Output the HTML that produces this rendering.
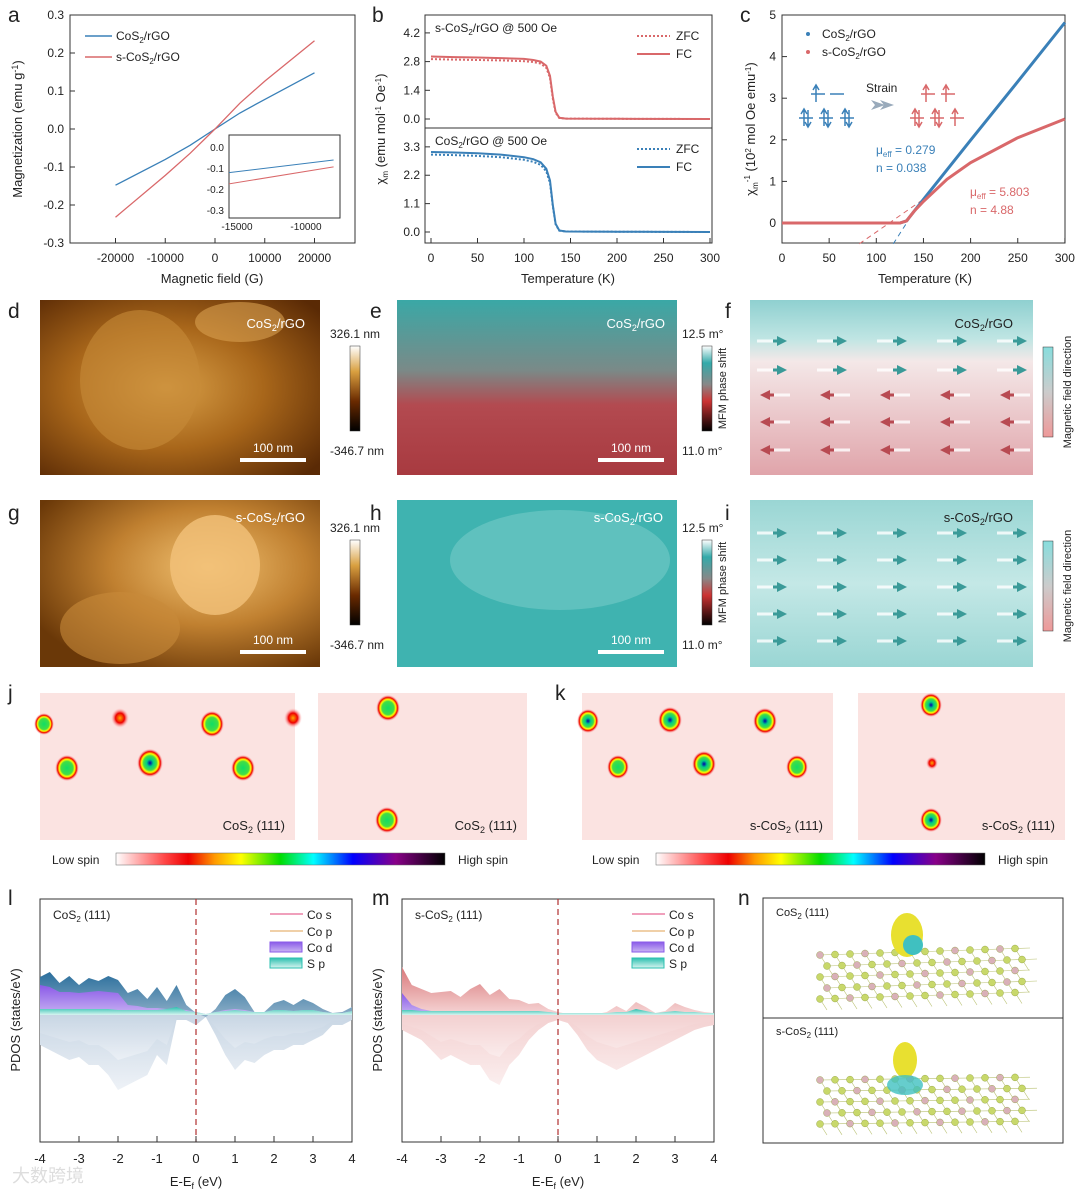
<!DOCTYPE html>
<html><head><meta charset="utf-8"><style>
body{margin:0;background:#fff}
svg{display:block;font-family:"Liberation Sans","Noto Sans CJK SC",sans-serif}
</style></head><body>
<svg id="fig" width="1080" height="1197" viewBox="0 0 1080 1197" xmlns="http://www.w3.org/2000/svg">
<defs>
<clipPath id="insetClip"><rect x="229" y="135" width="111" height="83"/></clipPath>
<linearGradient id="spin" x1="0" x2="1"><stop offset="0" stop-color="#fff"/><stop offset=".15" stop-color="#f44"/><stop offset=".22" stop-color="#e00"/><stop offset=".3" stop-color="#f90"/><stop offset=".38" stop-color="#ff0"/><stop offset=".5" stop-color="#0d0"/><stop offset=".6" stop-color="#0ff"/><stop offset=".72" stop-color="#00f"/><stop offset=".85" stop-color="#808"/><stop offset="1" stop-color="#000"/></linearGradient>
<radialGradient id="blob"><stop offset="0" stop-color="#00a"/><stop offset=".25" stop-color="#0c8"/><stop offset=".5" stop-color="#4d4"/><stop offset=".65" stop-color="#ff0"/><stop offset=".8" stop-color="#e00"/><stop offset="1" stop-color="#fbb" stop-opacity="0"/></radialGradient>
<radialGradient id="blobg"><stop offset="0" stop-color="#1d6"/><stop offset=".5" stop-color="#4d4"/><stop offset=".65" stop-color="#ff0"/><stop offset=".8" stop-color="#e00"/><stop offset="1" stop-color="#fbb" stop-opacity="0"/></radialGradient>
<radialGradient id="blobr"><stop offset="0" stop-color="#fa0"/><stop offset=".5" stop-color="#e00"/><stop offset="1" stop-color="#fbb" stop-opacity="0"/></radialGradient>
<linearGradient id="afmbar" x1="0" y1="1" x2="0" y2="0"><stop offset="0" stop-color="#000"/><stop offset=".35" stop-color="#6a2a00"/><stop offset=".7" stop-color="#d9a040"/><stop offset="1" stop-color="#fff"/></linearGradient>
<linearGradient id="mfmbar" x1="0" y1="1" x2="0" y2="0"><stop offset="0" stop-color="#000"/><stop offset=".35" stop-color="#c33"/><stop offset=".55" stop-color="#888"/><stop offset=".8" stop-color="#3aa"/><stop offset="1" stop-color="#fff"/></linearGradient>
<linearGradient id="fieldbar" x1="0" y1="0" x2="0" y2="1"><stop offset="0" stop-color="#8dd"/><stop offset=".5" stop-color="#ccc"/><stop offset="1" stop-color="#e99"/></linearGradient>
<linearGradient id="fbg" x1="0" y1="0" x2="0" y2="1"><stop offset="0" stop-color="#8fd0d0"/><stop offset=".22" stop-color="#bfe5e3"/><stop offset=".35" stop-color="#f4e8e8"/><stop offset="1" stop-color="#e0a4aa"/></linearGradient>
<linearGradient id="ibg" x1="0" y1="0" x2="0" y2="1"><stop offset="0" stop-color="#9ad6d4"/><stop offset=".5" stop-color="#c4e8e6"/><stop offset="1" stop-color="#9ad6d4"/></linearGradient>
<radialGradient id="afm1" cx=".45" cy=".5" r=".7"><stop offset="0" stop-color="#d9a048"/><stop offset=".5" stop-color="#a8661a"/><stop offset="1" stop-color="#5a2a05"/></radialGradient>
<radialGradient id="afm2" cx=".6" cy=".4" r=".7"><stop offset="0" stop-color="#f0c070"/><stop offset=".5" stop-color="#c08030"/><stop offset="1" stop-color="#6a3808"/></radialGradient>
<linearGradient id="ebg" x1="0" y1="0" x2="0" y2="1"><stop offset="0" stop-color="#3aa8a6"/><stop offset=".4" stop-color="#7a8a88"/><stop offset=".6" stop-color="#b34a50"/><stop offset="1" stop-color="#a83a40"/></linearGradient>
<linearGradient id="upBlue" x1="0" y1="0" x2="0" y2="1"><stop offset="0" stop-color="#2a6e9c"/><stop offset="1" stop-color="#8fb0c8"/></linearGradient>
<linearGradient id="upRed" x1="0" y1="0" x2="0" y2="1"><stop offset="0" stop-color="#d9787a"/><stop offset="1" stop-color="#f6d6d6"/></linearGradient>
<linearGradient id="dnBlue" x1="0" y1="0" x2="0" y2="1"><stop offset="0" stop-color="#c8d6e4"/><stop offset="1" stop-color="#eef2f7"/></linearGradient>
<linearGradient id="dnRed" x1="0" y1="0" x2="0" y2="1"><stop offset="0" stop-color="#f3d0d0"/><stop offset="1" stop-color="#fbeeee"/></linearGradient>
<linearGradient id="purp" x1="0" y1="0" x2="0" y2="1"><stop offset="0" stop-color="#8a5ae8"/><stop offset="1" stop-color="#c9b4f2"/></linearGradient>
<linearGradient id="teal" x1="0" y1="0" x2="0" y2="1"><stop offset="0" stop-color="#2cc0b0"/><stop offset="1" stop-color="#d8f4f0"/></linearGradient>
</defs>
<g id="g"></g>
</svg>
<script>
// ---- data ----
const aField=[-20000,-10000,-5000,0,5000,10000,20000];
const aCoS2=[-0.148,-0.080,-0.043,0,0.042,0.078,0.148];
const aSCoS2=[-0.232,-0.122,-0.064,0,0.068,0.126,0.232];
const aXTicks=[-20000,-10000,0,10000,20000];
const aYTicks=[-0.3,-0.2,-0.1,0.0,0.1,0.2,0.3];
const insetField=[-16000,-8000];
const insetCoS2=[-0.125,-0.062];
const insetSCoS2=[-0.18,-0.095];
const bT=[0,25,50,75,100,110,118,124,128,131,134,138,145,200,300];
const bTopZFC=[2.92,2.90,2.88,2.86,2.82,2.78,2.70,2.5,2.0,1.0,0.3,0.05,0.02,0.01,0.0];
const bTopFC=[3.05,3.02,3.0,2.97,2.93,2.88,2.80,2.6,2.1,1.1,0.35,0.06,0.02,0.01,0.0];
const bBotZFC=[3.0,2.98,2.95,2.9,2.8,2.72,2.6,2.35,1.9,1.0,0.3,0.05,0.02,0.01,0.0];
const bBotFC=[3.1,3.08,3.05,3.0,2.9,2.82,2.7,2.45,2.0,1.05,0.32,0.06,0.02,0.01,0.0];
const cT=[0,50,100,125,132,140,150,175,200,250,300];
const cBlue=[0,0,0,0,0.05,0.28,0.57,1.28,1.99,3.4,4.82];
const cRed=[0,0,0,0,0.05,0.28,0.52,1.05,1.45,2.05,2.5];
const pdE=[-4,-3.75,-3.5,-3.25,-3,-2.75,-2.5,-2.25,-2,-1.75,-1.5,-1.25,-1,-0.75,-0.5,-0.25,0,0.25,0.5,0.75,1,1.25,1.5,1.75,2,2.25,2.5,2.75,3,3.25,3.5,3.75,4];
const lUp=[3.8,4.3,3.2,3.9,3.0,3.7,3.4,3.9,3.5,2.2,2.6,1.6,2.8,1.4,3.0,1.0,0.2,-0.2,0.6,2.0,2.6,1.8,0.3,0.3,1.2,1.5,1.0,1.6,1.2,0.6,0.2,0.3,0.8];
const lCoD=[3.0,2.8,2.3,2.3,2.2,2.3,2.4,2.3,2.2,1.0,0.9,0.7,0.7,0.6,0.6,0.5,0.3,0.1,0.3,0.5,0.6,0.5,0.3,0.3,0.5,0.5,0.4,0.5,0.5,0.3,0.2,0.2,0.4];
const lSp=[0.6,0.6,0.6,0.6,0.6,0.6,0.6,0.6,0.5,0.5,0.5,0.5,0.5,0.6,0.8,0.4,0.3,0.1,0.3,0.4,0.5,0.4,0.3,0.3,0.5,0.5,0.4,0.5,0.5,0.3,0.2,0.2,0.4];
const lDn=[-3.0,-3.5,-4.0,-4.5,-4.2,-5.0,-5.0,-6.0,-7.5,-7.0,-6.5,-6.0,-4.0,-5.0,-0.5,-0.5,-1.0,-0.2,-2.0,-4.0,-5.5,-4.5,-4.8,-4.0,-3.5,-3.5,-3.0,-3.0,-2.5,-2.0,-1.0,-1.0,-0.5];
const mUp=[4.8,3.0,2.6,2.2,2.3,2.4,1.8,2.6,3.1,2.0,2.6,1.6,1.5,1.1,1.2,0.6,0.3,0.1,0.1,0.1,0.1,0.3,0.9,0.4,1.3,0.8,0.2,0.4,1.2,0.8,0.5,0.3,0.2];
const mCoD=[2.2,1.0,0.6,0.4,0.4,0.4,0.3,0.3,0.3,0.3,0.3,0.3,0.3,0.3,0.3,0.3,0.2,0.1,0.1,0.1,0.1,0.1,0.2,0.2,0.3,0.2,0.1,0.2,0.3,0.2,0.2,0.1,0.1];
const mSp=[0.5,0.5,0.4,0.4,0.4,0.4,0.4,0.4,0.4,0.4,0.4,0.4,0.4,0.4,0.4,0.3,0.2,0.2,0.2,0.2,0.2,0.2,0.3,0.3,0.6,0.4,0.2,0.3,0.4,0.3,0.3,0.2,0.2];
const mDn=[-1.5,-2.0,-2.5,-3.5,-4.5,-4.0,-4.5,-5.0,-5.0,-6.5,-7.0,-5.0,-4.0,-2.5,-1.5,-0.8,-0.5,-0.8,-2.0,-3.5,-4.5,-5.0,-5.5,-5.0,-4.5,-4.0,-3.5,-3.0,-2.5,-2.0,-1.5,-1.2,-1.0];
const pdTicks=[-4,-3,-2,-1,0,1,2,3,4];

const NS='http://www.w3.org/2000/svg';
const G=document.getElementById('g');
function el(tag,at,parent){const e=document.createElementNS(NS,tag);for(const k in at)e.setAttribute(k,at[k]);(parent||G).appendChild(e);return e;}
function tx(x,y,s,at){const e=el('text',Object.assign({x:x,y:y,'font-size':12,fill:'#222'},at||{}));e.innerHTML=s;return e;}
function poly(pts){return pts.map(p=>p[0].toFixed(1)+','+p[1].toFixed(1)).join(' ');}

[['a',8,22],['b',372,22],['c',740,22],['d',8,318],['e',370,318],['f',725,318],['g',8,520],['h',370,520],['i',725,520],['j',8,700],['k',555,700],['l',8,905],['m',372,905],['n',738,905]].forEach(p=>{
 const t=tx(p[1],p[2],p[0],{'font-size':21});
 
 
});

// ---- panel a ----
const ax=v=>215+v/20000*99.5, ay=v=>129-v*380;
let fr=el('rect',{x:70,y:15,width:285,height:228,fill:'none',stroke:'#333'});

aXTicks.forEach(v=>{el('line',{x1:ax(v),x2:ax(v),y1:243,y2:238,stroke:'#333'});tx(ax(v),262,v,{'text-anchor':'middle'});});
aYTicks.forEach(v=>{el('line',{x1:70,x2:75,y1:ay(v),y2:ay(v),stroke:'#333'});tx(64,ay(v)+4,v.toFixed(1),{'text-anchor':'end'});});
tx(212,283,'Magnetic field (G)',{'text-anchor':'middle','font-size':13});
tx(22,129,'Magnetization (emu g<tspan dy="-4" font-size="9">-1</tspan><tspan dy="4">)</tspan>',{'text-anchor':'middle','font-size':13,transform:'rotate(-90 22 129)'});
let pl=el('polyline',{points:poly(aField.map((v,i)=>[ax(v),ay(aCoS2[i])])),fill:'none',stroke:'#3a80b8','stroke-width':1.3});

pl=el('polyline',{points:poly(aField.map((v,i)=>[ax(v),ay(aSCoS2[i])])),fill:'none',stroke:'#d9686a','stroke-width':1.3});

el('line',{x1:85,x2:112,y1:36,y2:36,stroke:'#3a80b8','stroke-width':1.5});tx(116,40,'CoS<tspan dy="3" font-size="8">2</tspan><tspan dy="-3">/rGO</tspan>');
el('line',{x1:85,x2:112,y1:57,y2:57,stroke:'#d9686a','stroke-width':1.5});tx(116,61,'s-CoS<tspan dy="3" font-size="8">2</tspan><tspan dy="-3">/rGO</tspan>');
const ix=v=>237+(v+15000)/5000*69, iy=v=>147-v*210;
let inset=el('rect',{x:229,y:135,width:111,height:83,fill:'#fff',stroke:'#333'});

[-15000,-10000].forEach(v=>tx(ix(v),230,v,{'text-anchor':'middle','font-size':10}));
[0,-0.1,-0.2,-0.3].forEach(v=>tx(224,iy(v)+4,v.toFixed(1),{'text-anchor':'end','font-size':10}));
pl=el('polyline',{points:poly(insetField.map((v,i)=>[ix(v),iy(insetCoS2[i])])),fill:'none',stroke:'#3a80b8','clip-path':'url(#insetClip)'});

pl=el('polyline',{points:poly(insetField.map((v,i)=>[ix(v),iy(insetSCoS2[i])])),fill:'none',stroke:'#d9686a','clip-path':'url(#insetClip)'});


// ---- panel b ----
const bx=v=>431+v*0.93;
function bPanel(y0,y1,zeroY,scale,ticks,zfc,fc,color,title,name){
 const f=el('rect',{x:425,y:y0,width:287,height:y1-y0,fill:'none',stroke:'#333'});
 
 ticks.forEach(v=>{el('line',{x1:425,x2:430,y1:zeroY-v*scale,y2:zeroY-v*scale,stroke:'#333'});tx(420,zeroY-v*scale+4,v.toFixed(1),{'text-anchor':'end'});});
 let p=el('polyline',{points:poly(bT.map((t,i)=>[bx(t),zeroY-zfc[i]*scale])),fill:'none',stroke:color,'stroke-width':2,'stroke-dasharray':'2,2'});
 
 p=el('polyline',{points:poly(bT.map((t,i)=>[bx(t),zeroY-fc[i]*scale])),fill:'none',stroke:color,'stroke-width':2});
 
 tx(435,y0+17,title);
 el('line',{x1:637,x2:670,y1:y0+21,y2:y0+21,stroke:color,'stroke-width':2,'stroke-dasharray':'2,2'});tx(676,y0+25,'ZFC');
 el('line',{x1:637,x2:670,y1:y0+39,y2:y0+39,stroke:color,'stroke-width':2});tx(676,y0+43,'FC');
}
bPanel(15,128,119,20.5,[0,1.4,2.8,4.2],bTopZFC,bTopFC,'#d9686a','s-CoS<tspan dy="3" font-size="8">2</tspan><tspan dy="-3">/rGO @ 500 Oe</tspan>','b-top');
bPanel(128,243,232,25.8,[0,1.1,2.2,3.3],bBotZFC,bBotFC,'#3a80b8','CoS<tspan dy="3" font-size="8">2</tspan><tspan dy="-3">/rGO @ 500 Oe</tspan>','b-bottom');
[0,50,100,150,200,250,300].forEach(v=>{el('line',{x1:bx(v),x2:bx(v),y1:243,y2:238,stroke:'#333'});tx(bx(v),262,v,{'text-anchor':'middle'});});
tx(568,283,'Temperature (K)',{'text-anchor':'middle','font-size':13});
tx(385,129,'χ<tspan dy="3" font-size="8">m</tspan><tspan dy="-3"> (emu mol</tspan><tspan dy="-4" font-size="8">-1</tspan><tspan dy="4"> Oe</tspan><tspan dy="-4" font-size="8">-1</tspan><tspan dy="4">)</tspan>',{'text-anchor':'middle','font-size':13,transform:'rotate(-90 385 129)'});

// ---- panel c ----
const cx=v=>782+v*0.943, cy=v=>223-v*41.6;
fr=el('rect',{x:782,y:15,width:283,height:228,fill:'none',stroke:'#333'});

[0,50,100,150,200,250,300].forEach(v=>{el('line',{x1:cx(v),x2:cx(v),y1:243,y2:238,stroke:'#333'});tx(cx(v),262,v,{'text-anchor':'middle'});});
[0,1,2,3,4,5].forEach(v=>{el('line',{x1:782,x2:787,y1:cy(v),y2:cy(v),stroke:'#333'});tx(776,cy(v)+4,v,{'text-anchor':'end'});});
tx(925,283,'Temperature (K)',{'text-anchor':'middle','font-size':13});
tx(755,129,'χ<tspan dy="3" font-size="8">m</tspan><tspan dy="-8" font-size="8">-1</tspan><tspan dy="5"> (10</tspan><tspan dy="-4" font-size="8">2</tspan><tspan dy="4"> mol Oe emu</tspan><tspan dy="-4" font-size="8">-1</tspan><tspan dy="4">)</tspan>',{'text-anchor':'middle','font-size':13,transform:'rotate(-90 755 129)'});
el('line',{x1:cx(118),y1:cy(-0.5),x2:cx(135),y2:cy(0.1),stroke:'#3a80b8','stroke-dasharray':'5,4'});
el('line',{x1:cx(82),y1:cy(-0.5),x2:cx(155),y2:cy(0.65),stroke:'#d9686a','stroke-dasharray':'5,4'});
pl=el('polyline',{points:poly(cT.map((t,i)=>[cx(t),cy(cBlue[i])])),fill:'none',stroke:'#3a80b8','stroke-width':3});

pl=el('polyline',{points:poly(cT.map((t,i)=>[cx(t),cy(cRed[i])])),fill:'none',stroke:'#d9686a','stroke-width':3});

el('circle',{cx:808,cy:34,r:2,fill:'#3a80b8'});tx(822,38,'CoS<tspan dy="3" font-size="8">2</tspan><tspan dy="-3">/rGO</tspan>');
el('circle',{cx:808,cy:52,r:2,fill:'#d9686a'});tx(822,56,'s-CoS<tspan dy="3" font-size="8">2</tspan><tspan dy="-3">/rGO</tspan>');
tx(866,92,'Strain');
el('path',{d:'M871 100 l14 5 -14 5 4 -5z M880 100 l14 5 -14 5 4 -5z',fill:'#9ab'});
function orb(x,y,c,up,dn){el('line',{x1:x-7,x2:x+7,y1:y,y2:y,stroke:c,'stroke-width':1.5});if(up)el('path',{d:`M${x-2} ${y+8}v-16m-3 4l3-5 3 5`,stroke:c,fill:'none','stroke-width':1.5});if(dn)el('path',{d:`M${x+2} ${y-8}v16m-3 -4l3 5 3 -5`,stroke:c,fill:'none','stroke-width':1.5});}
const B='#3a80b8',R='#d9686a';
orb(818,94,B,1,0);orb(837,94,B,0,0);orb(806,118,B,1,1);orb(826,118,B,1,1);orb(847,118,B,1,1);
orb(928,94,R,1,0);orb(948,94,R,1,0);orb(917,118,R,1,1);orb(937,118,R,1,1);orb(957,118,R,1,0);
tx(876,154,'μ<tspan dy="3" font-size="8">eff</tspan><tspan dy="-3"> = 0.279</tspan>',{fill:'#3a80b8'});
tx(876,172,'n = 0.038',{fill:'#3a80b8'});
tx(970,196,'μ<tspan dy="3" font-size="8">eff</tspan><tspan dy="-3"> = 5.803</tspan>',{fill:'#d9686a'});
tx(970,214,'n = 4.88',{fill:'#d9686a'});

// ---- image rows ----
function imgPanel(x,y,w,h,fill,name){
 const r=el('rect',{x:x,y:y,width:w,height:h,fill:fill});
 
}
function scale(x,y){el('line',{x1:x,x2:x+66,y1:y,y2:y,stroke:'#fff','stroke-width':4});tx(x+33,y-8,'100 nm',{'text-anchor':'middle',fill:'#fff'});}
imgPanel(40,300,280,175,'url(#afm1)','afm-image-cos2');
el('ellipse',{cx:140,cy:380,rx:60,ry:70,fill:'#c68a38',opacity:.6});el('ellipse',{cx:240,cy:322,rx:45,ry:20,fill:'#d8a050',opacity:.6});
tx(305,328,'CoS<tspan dy="3" font-size="9">2</tspan><tspan dy="-3">/rGO</tspan>',{'text-anchor':'end',fill:'#fff','font-size':13});
scale(240,460);
imgPanel(40,500,280,167,'url(#afm2)','afm-image-s-cos2');
el('ellipse',{cx:215,cy:565,rx:45,ry:50,fill:'#f2c27a',opacity:.8});el('ellipse',{cx:120,cy:628,rx:60,ry:36,fill:'#c88a3a',opacity:.6});
tx(305,522,'s-CoS<tspan dy="3" font-size="9">2</tspan><tspan dy="-3">/rGO</tspan>',{'text-anchor':'end',fill:'#fff','font-size':13});
scale(240,652);
imgPanel(397,300,280,175,'url(#ebg)','mfm-image-cos2');
tx(665,328,'CoS<tspan dy="3" font-size="9">2</tspan><tspan dy="-3">/rGO</tspan>',{'text-anchor':'end',fill:'#fff','font-size':13});
scale(598,460);
imgPanel(397,500,280,167,'#3fb3b0','mfm-image-s-cos2');
el('ellipse',{cx:560,cy:560,rx:110,ry:50,fill:'#7fd0cc',opacity:.5});
tx(663,522,'s-CoS<tspan dy="3" font-size="9">2</tspan><tspan dy="-3">/rGO</tspan>',{'text-anchor':'end',fill:'#fff','font-size':13});
scale(598,652);
function cbar(x,y,h,fill,top,bot,vlabel,name){
 const r=el('rect',{x:x,y:y,width:10,height:h,fill:fill,stroke:'#333','stroke-width':.5});
 
 if(top)tx(x-20,y-8,top);if(bot)tx(x-20,y+h+24,bot);
 if(vlabel)tx(x+24,y+h/2,vlabel,{'text-anchor':'middle','font-size':11,transform:`rotate(-90 ${x+24} ${y+h/2})`});
}
cbar(350,346,85,'url(#afmbar)','326.1 nm','-346.7 nm','', 'colorbar-d');
cbar(350,540,85,'url(#afmbar)','326.1 nm','-346.7 nm','', 'colorbar-g');
cbar(702,346,85,'url(#mfmbar)','12.5 m°','11.0 m°','MFM phase shift','colorbar-e');
cbar(702,540,85,'url(#mfmbar)','12.5 m°','11.0 m°','MFM phase shift','colorbar-h');
imgPanel(750,300,283,175,'url(#fbg)','field-map-cos2');
tx(1013,328,'CoS<tspan dy="3" font-size="9">2</tspan><tspan dy="-3">/rGO</tspan>',{'text-anchor':'end','font-size':13});
imgPanel(750,500,283,167,'url(#ibg)','field-map-s-cos2');
tx(1013,522,'s-CoS<tspan dy="3" font-size="9">2</tspan><tspan dy="-3">/rGO</tspan>',{'text-anchor':'end','font-size':13});
function arrow(x,y,dir,c){
 if(dir>0){el('rect',{x:x-20,y:y-1.5,width:20,height:3,fill:'#fff',opacity:.8});el('path',{d:`M${x} ${y-5}l10 5-10 5z`,fill:c});el('rect',{x:x-4,y:y-1.5,width:5,height:3,fill:c});}
 else{el('rect',{x:x,y:y-1.5,width:20,height:3,fill:'#fff',opacity:.8});el('path',{d:`M${x} ${y-5}l-10 5 10 5z`,fill:c});el('rect',{x:x-1,y:y-1.5,width:5,height:3,fill:c});}
}
[341,370].forEach(y=>[785,845,905,965,1025].forEach(x=>arrow(x-8,y,1,'#3a9a98')));
[395,422,450].forEach(y=>[770,830,890,950,1010].forEach(x=>arrow(x,y,-1,'#b84a52')));
[533,560,587,614,641].forEach(y=>[785,845,905,965,1025].forEach(x=>arrow(x-8,y,1,'#3a9a98')));
cbar(1043,347,90,'url(#fieldbar)','','','',"colorbar-f");
tx(1071,392,'Magnetic field direction',{'text-anchor':'middle','font-size':11,transform:'rotate(-90 1071 392)'});
cbar(1043,541,90,'url(#fieldbar)','','','',"colorbar-i");
tx(1071,586,'Magnetic field direction',{'text-anchor':'middle','font-size':11,transform:'rotate(-90 1071 586)'});

// ---- j, k ----
function spinMap(x,y,w,h,blobs,label,name){
 const r=el('rect',{x:x,y:y,width:w,height:h,fill:'#fbe3e1'});
 
 blobs.forEach(b=>el('ellipse',{cx:b[0],cy:b[1],rx:b[2]||13,ry:(b[2]||13)*1.1,fill:'url(#'+(b[3]||'blob')+')'}));
 tx(x+w-10,y+h-10,label,{'text-anchor':'end','font-size':13});
}
const cl=(s)=>s+'CoS<tspan dy="3" font-size="9">2</tspan><tspan dy="-3"> (111)</tspan>';
spinMap(40,693,255,147,[[44,724,10,'blobg'],[120,718,9,'blobr'],[212,724,12,'blobg'],[293,718,9,'blobr'],[67,768,12,'blobg'],[150,763,13],[243,768,12,'blobg']],cl(''),'spin-map-j1');
spinMap(318,693,209,147,[[388,708,12,'blobg'],[387,820,12,'blobg']],cl(''),'spin-map-j2');
spinMap(582,693,251,147,[[588,721,11],[670,720,12],[765,721,12],[618,767,11,'blobg'],[704,764,12],[797,767,11,'blobg']],cl('s-'),'spin-map-k1');
spinMap(858,693,207,147,[[931,705,11],[932,763,6,'blobr'],[931,820,11]],cl('s-'),'spin-map-k2');
el('rect',{x:116,y:853,width:329,height:12,fill:'url(#spin)',stroke:'#666','stroke-width':.5});
tx(52,864,'Low spin');tx(458,864,'High spin');
el('rect',{x:656,y:853,width:329,height:12,fill:'url(#spin)',stroke:'#666','stroke-width':.5});
tx(592,864,'Low spin');tx(998,864,'High spin');

// ---- l, m ----
function pdos(x0,title,up,coD,sp,dn,upFill,dnFill,name){
 const px=e=>x0+(e+4)*39, py=v=>1015-v*10;
 const f=el('rect',{x:x0,y:899,width:312,height:243,fill:'none',stroke:'#333'});
 
 const area=(arr,fill,nm,op)=>{const p=el('polygon',{points:poly([[px(-4),py(0)]].concat(pdE.map((e,i)=>[px(e),py(arr[i])])).concat([[px(4),py(0)]])),fill:fill,opacity:op||1});};
 area(dn,dnFill,name+'-spin-down');
 area(dn.map(v=>v*0.6),dnFill,name+'-spin-down-cod',0.8);
 area(up,upFill,name+'-total-up');
 area(coD,'url(#purp)',name+'-co-d');
 area(sp,'url(#teal)',name+'-s-p');
 el('line',{x1:px(0),x2:px(0),y1:899,y2:1142,stroke:'#b03030','stroke-width':1.2,'stroke-dasharray':'6,4'});
 pdTicks.forEach(v=>{el('line',{x1:px(v),x2:px(v),y1:1142,y2:1136,stroke:'#333'});tx(px(v),1163,v,{'text-anchor':'middle','font-size':13});});
 tx(x0+156,1186,'E-E<tspan dy="3" font-size="9">f</tspan><tspan dy="-3"> (eV)</tspan>',{'text-anchor':'middle','font-size':13});
 tx(x0-20,1020,'PDOS (states/eV)',{'text-anchor':'middle','font-size':13,transform:`rotate(-90 ${x0-20} 1020)`});
 tx(x0+13,919,title,{'font-size':12});
 const lx=x0+230;
 el('line',{x1:lx,x2:lx+33,y1:914,y2:914,stroke:'#e0407a'});tx(lx+37,919,'Co s');
 el('line',{x1:lx,x2:lx+33,y1:931,y2:931,stroke:'#e0a050'});tx(lx+37,936,'Co p');
 el('rect',{x:lx,y:942,width:32,height:10,fill:'url(#purp)',stroke:'#8a5ae8'});tx(lx+37,952,'Co d');
 el('rect',{x:lx,y:958,width:32,height:10,fill:'url(#teal)',stroke:'#2cc0b0'});tx(lx+37,968,'S p');
}
pdos(40,'CoS<tspan dy="3" font-size="8">2</tspan><tspan dy="-3"> (111)</tspan>',lUp,lCoD,lSp,lDn,'url(#upBlue)','url(#dnBlue)','pdos-l');
pdos(402,'s-CoS<tspan dy="3" font-size="8">2</tspan><tspan dy="-3"> (111)</tspan>',mUp,mCoD,mSp,mDn,'url(#upRed)','url(#dnRed)','pdos-m');
tx(12,1182,'大数跨境',{'font-size':18,fill:'#ddd'});

// ---- n ----
fr=el('rect',{x:763,y:898,width:300,height:245,fill:'none',stroke:'#333'});

el('line',{x1:763,x2:1063,y1:1018,y2:1018,stroke:'#333'});
tx(776,916,'CoS<tspan dy="3" font-size="8">2</tspan><tspan dy="-3"> (111)</tspan>',{'font-size':11});
tx(776,1035,'s-CoS<tspan dy="3" font-size="8">2</tspan><tspan dy="-3"> (111)</tspan>',{'font-size':11});
function slab(y0,tilt){
 for(let r=0;r<5;r++)for(let c=0;c<14;c++){
  const x=820+c*15+(r%2)*7, y=y0+r*11-c*tilt;
  el('line',{x1:x,y1:y,x2:x+15,y2:y-tilt,stroke:'#b8c070','stroke-width':.6});
  el('line',{x1:x,y1:y,x2:x+7,y2:y+11,stroke:'#b8c070','stroke-width':.6});
  el('circle',{cx:x,cy:y,r:3.5,fill:(c+r)%3?'#c8d86a':'#d9b0b8',stroke:'#8a9a3a','stroke-width':.4});
 }
}
slab(955,0.5);el('ellipse',{cx:907,cy:935,rx:16,ry:22,fill:'#e8e030'});el('ellipse',{cx:913,cy:945,rx:10,ry:10,fill:'#40c0c0'});
slab(1080,0.2);el('ellipse',{cx:905,cy:1060,rx:12,ry:18,fill:'#e8e030'});el('ellipse',{cx:905,cy:1085,rx:18,ry:10,fill:'#40c0c0',opacity:.8});
</script>
</body></html>
